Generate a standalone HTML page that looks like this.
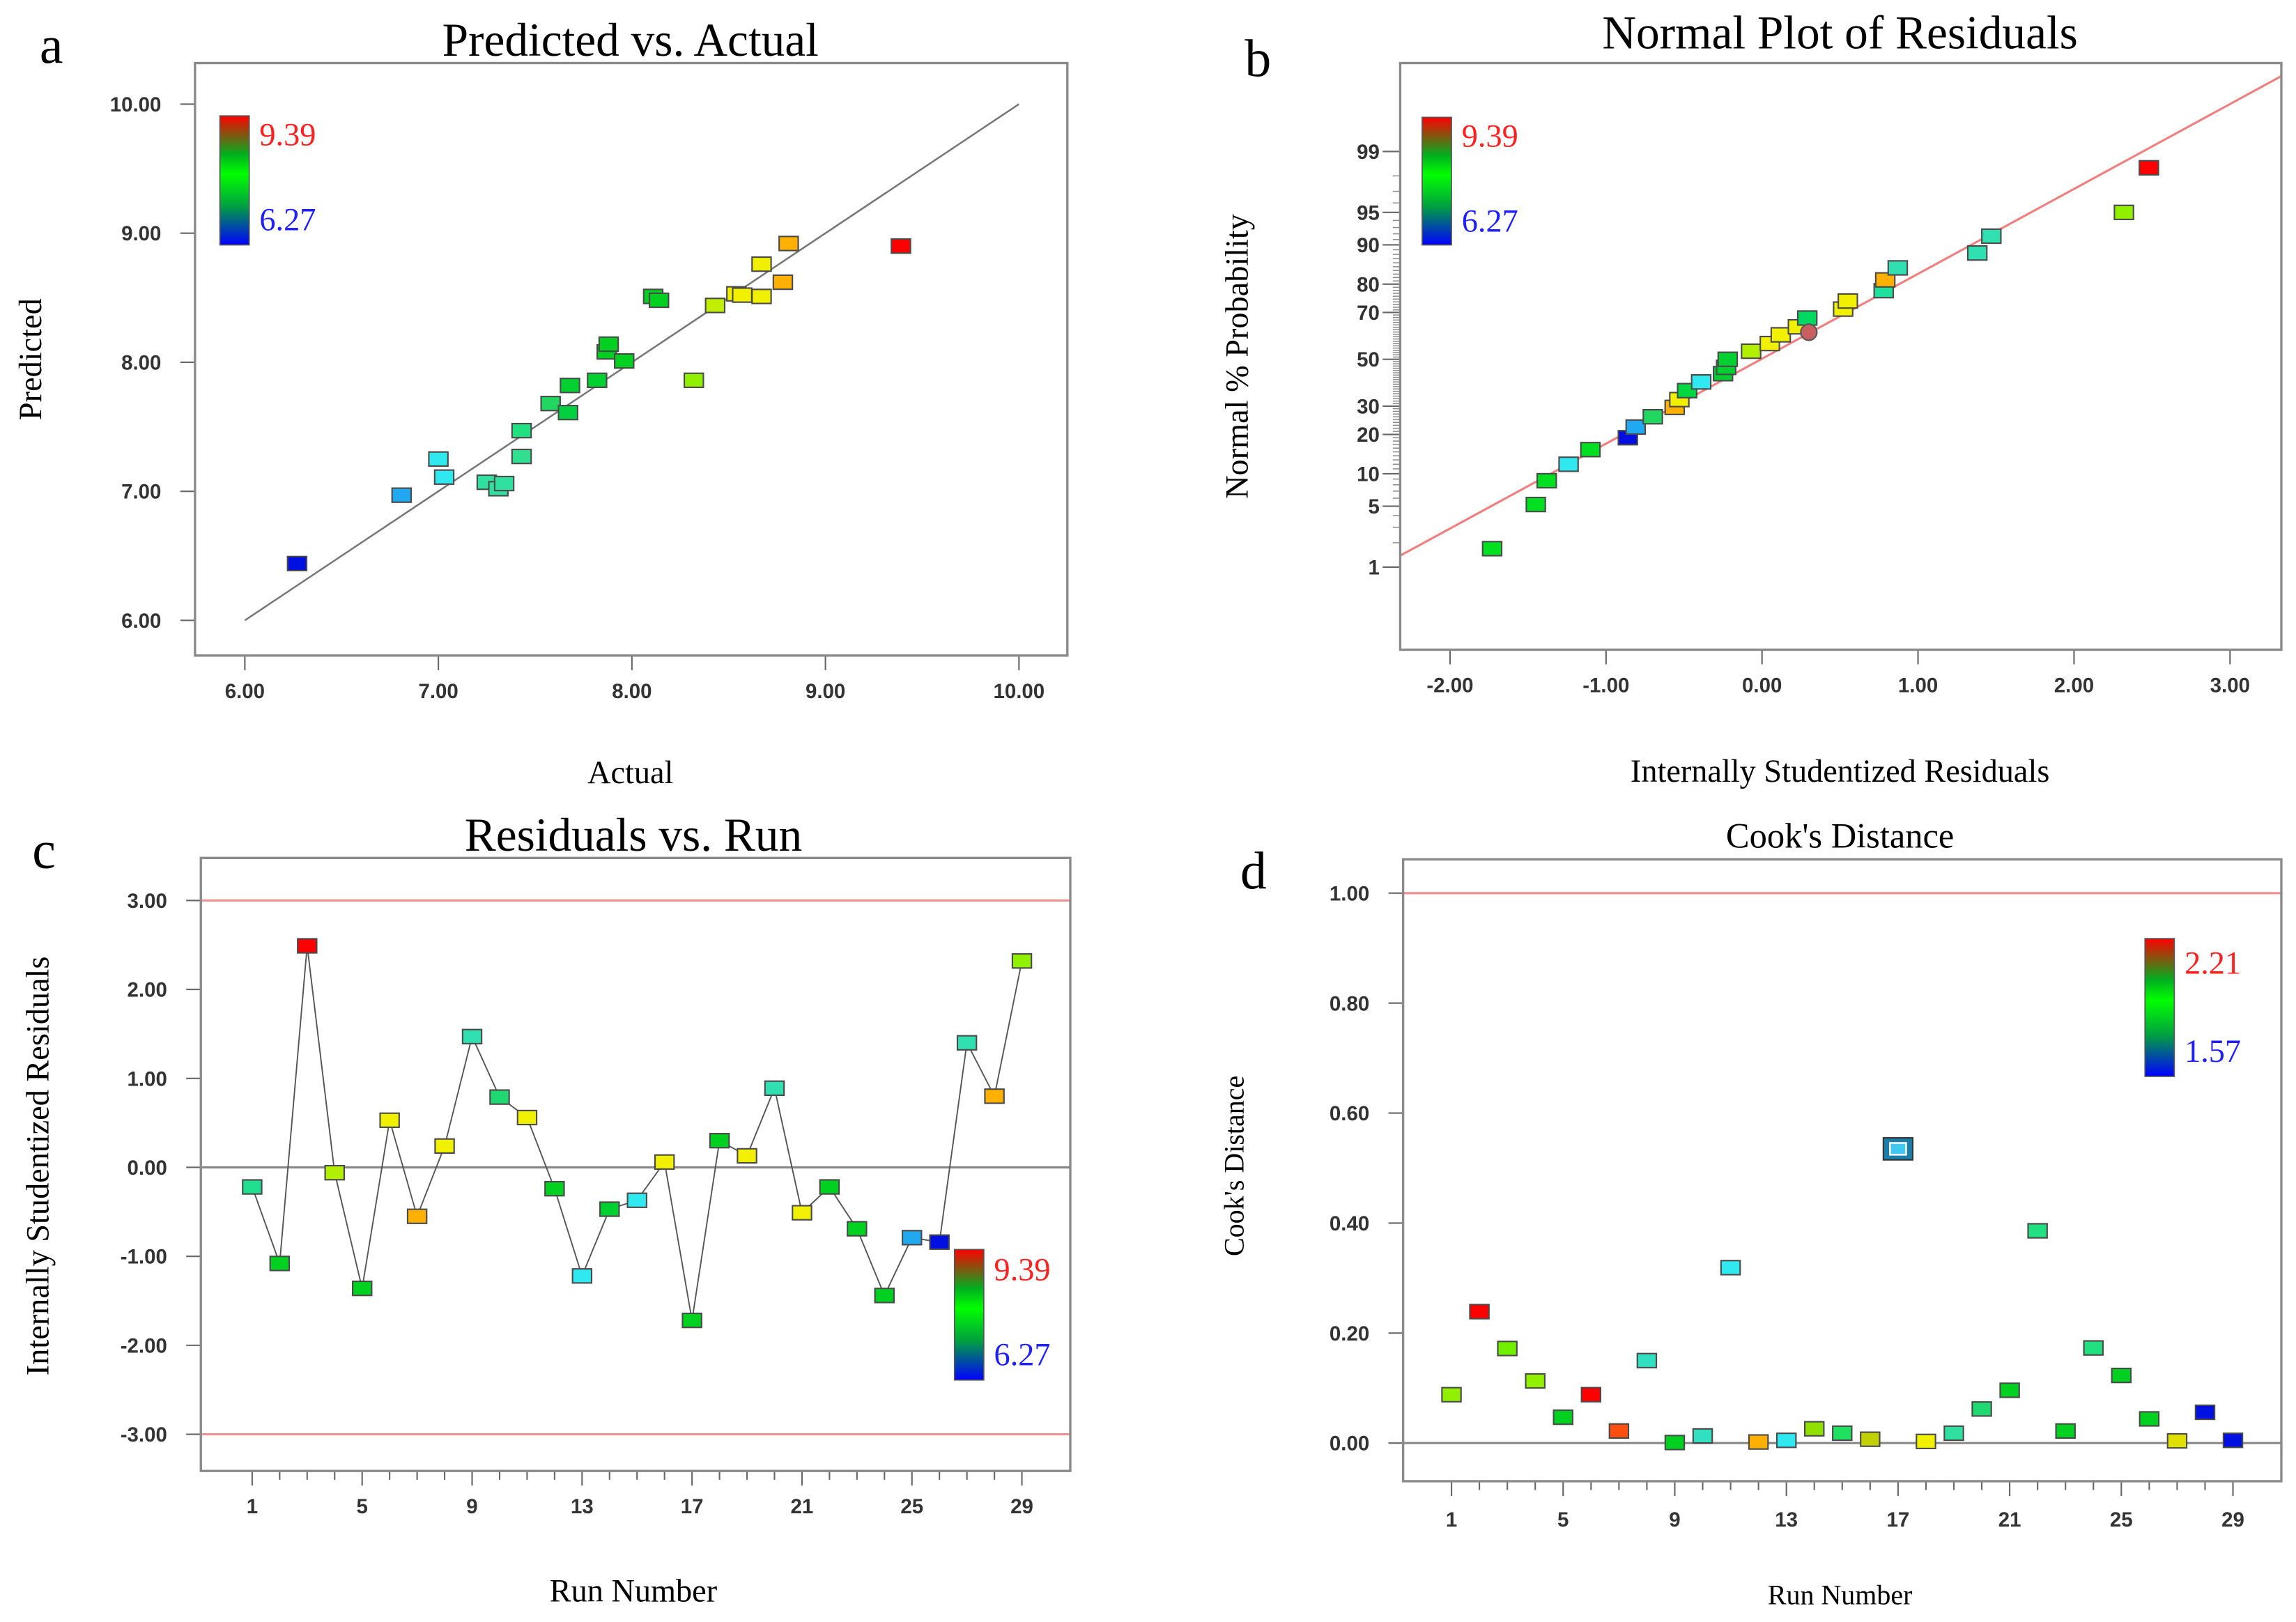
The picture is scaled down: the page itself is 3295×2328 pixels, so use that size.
<!DOCTYPE html>
<html><head><meta charset="utf-8"><style>
html,body{margin:0;padding:0;background:#fff;}
svg{display:block;}
.tk{font-family:"Liberation Sans",Arial,sans-serif;font-size:14px;fill:#333;font-weight:bold;}
.sr{font-family:"Liberation Serif","Times New Roman",serif;fill:#111;}
</style></head><body>
<svg id="fig" xmlns="http://www.w3.org/2000/svg" width="3295" height="2328" viewBox="0 0 1566 1106" preserveAspectRatio="none">
<defs>
<linearGradient id="cbar" x1="0" y1="0" x2="0" y2="1">
<stop offset="0" stop-color="#ff0000"/><stop offset="0.3" stop-color="#00b020"/><stop offset="0.45" stop-color="#00ff00"/><stop offset="0.7" stop-color="#00a040"/><stop offset="1" stop-color="#0000ff"/>
</linearGradient>
</defs>
<g id="root"></g>
</svg>
<script>
// ---------- Panel a data ----------
const aActual = [6.27,6.81,7.00,7.03,7.25,7.31,7.34,7.43,7.43,7.58,7.67,7.68,7.82,7.87,7.88,7.96,8.11,8.14,8.32,8.43,8.54,8.57,8.67,8.67,8.78,8.81,9.39];
const aPred   = [6.44,6.97,7.25,7.11,7.07,7.02,7.06,7.27,7.47,7.68,7.61,7.82,7.86,8.08,8.14,8.01,8.51,8.48,7.86,8.44,8.53,8.52,8.51,8.76,8.62,8.92,8.90];
const aColor  = ["#0010e0","#20a8f0","#30e8f0","#30e8f0","#30e0a0","#30e0a0","#30e0a0","#30e090","#20e080","#20d860","#00d040","#00d030","#00d030","#00d020","#00d020","#00d020","#00d020","#00d020","#90f000","#c0f000","#f0f000","#f0f000","#f0f000","#f0f000","#ffb000","#ffb000","#ff0000"];
const aTicks  = [6,7,8,9,10];
const aTickLabels = ["6.00","7.00","8.00","9.00","10.00"];
// ---------- Panel b data ----------
const bResid  = [-1.73,-1.45,-1.38,-1.24,-1.10,-0.86,-0.81,-0.70,-0.56,-0.53,-0.48,-0.39,-0.25,-0.23,-0.22,-0.07,0.05,0.12,0.23,0.29,0.30,0.52,0.55,0.78,0.79,0.87,1.38,1.47,2.32,2.48];
const bProb   = [1.7,5.2,8.7,12,15.6,19,22.4,26,29.5,32.6,36.3,40,43.6,46.4,50,53.6,57,60.8,64.2,67.8,61.9,71.3,74.3,77.9,81.3,84.7,88.3,91.6,95,98.4];
const bColor  = ["#00e020","#00e020","#00e020","#30e8f0","#00e020","#0010e0","#20a8f0","#20d860","#ffb000","#f0f000","#00d840","#30e8f0","#00d030","#00d030","#00d030","#b0f000","#f0f000","#f0f000","#f0f000","#00d860","#c86060","#f0f000","#f0f000","#20e0a0","#ffb000","#30e0b0","#30e0b0","#30e0b0","#90f000","#ff0000"];
const bXTicks = [-2,-1,0,1,2,3];
const bXLabels = ["-2.00","-1.00","0.00","1.00","2.00","3.00"];
const bYTicks = [1,5,10,20,30,50,70,80,90,95,99];
const bLineSlope = 0.952, bLineIntercept = 0.01;
// ---------- Panel c data ----------
const runs = [1,2,3,4,5,6,7,8,9,10,11,12,13,14,15,16,17,18,19,20,21,22,23,24,25,26,27,28,29];
const cResid = [-0.22,-1.08,2.49,-0.06,-1.36,0.53,-0.55,0.24,1.47,0.79,0.56,-0.24,-1.22,-0.47,-0.37,0.06,-1.72,0.30,0.13,0.89,-0.51,-0.22,-0.69,-1.44,-0.79,-0.84,1.40,0.80,2.32];
const cColor = ["#20e090","#00d020","#ff0000","#b0f000","#00d020","#f0f000","#ffb000","#f0f000","#30e0b0","#20d870","#f0f000","#00d020","#30e8f0","#00d030","#30e8f0","#f0f000","#00d020","#00d020","#f0f000","#30e0b0","#f0f000","#00d020","#00d020","#00d020","#20a8f0","#0010e0","#30e0b0","#ffb000","#90f000"];
const cYTicks = [-3,-2,-1,0,1,2,3];
const cYLabels = ["-3.00","-2.00","-1.00","0.00","1.00","2.00","3.00"];
const runTickLabels = [1,5,9,13,17,21,25,29];
// ---------- Panel d data ----------
const dCook = [0.088,0.239,0.172,0.113,0.047,0.088,0.022,0.150,0.001,0.013,0.319,0.002,0.005,0.026,0.018,0.007,0.535,0.003,0.018,0.062,0.096,0.386,0.022,0.173,0.123,0.044,0.004,0.056,0.005];
const dColor = ["#90f000","#ff0000","#70f000","#90f000","#00d020","#ff0000","#ff5010","#30e0c0","#00d020","#30e0c0","#30e8f0","#ffb000","#30e8f0","#90e000","#20e060","#c0d000","#20b0e0","#f0f000","#30e0a0","#20d870","#00d020","#20e080","#00d020","#20e080","#00d020","#00d020","#e0e000","#0010e0","#0010e0"];
const dYTicks = [0,0.2,0.4,0.6,0.8,1.0];
const dYLabels = ["0.00","0.20","0.40","0.60","0.80","1.00"];

const NS="http://www.w3.org/2000/svg";
const root=document.getElementById('root');
function mk(tag,attrs,parent){const e=document.createElementNS(NS,tag);for(const k in attrs)e.setAttribute(k,attrs[k]);(parent||root).appendChild(e);return e;}
function txt(s,x,y,cls,size,fill,anchor,parent,rot){const e=mk('text',{x:x,y:y,'class':cls,'font-size':size,'text-anchor':anchor||'middle'},parent);if(fill)e.style.fill=fill;if(rot)e.setAttribute('transform','rotate(-90 '+x+' '+y+')');e.textContent=s;return e;}
function lin(d0,d1,r0,r1){return v=>r0+(v-d0)*(r1-r0)/(d1-d0);}
function probit(p){const a=[-39.6968302866538,220.946098424521,-275.928510446969,138.357751867269,-30.6647980661472,2.50662827745924],b=[-54.4760987982241,161.585836858041,-155.698979859887,66.8013118877197,-13.2806815528857],c=[-0.00778489400243029,-0.322396458041136,-2.40075827716184,-2.54973253934373,4.37466414146497,2.93816398269878],d=[0.00778469570904146,0.32246712907004,2.445134137143,3.75440866190742];let q,r;if(p<0.02425){q=Math.sqrt(-2*Math.log(p));return(((((c[0]*q+c[1])*q+c[2])*q+c[3])*q+c[4])*q+c[5])/((((d[0]*q+d[1])*q+d[2])*q+d[3])*q+1);}if(p>1-0.02425){q=Math.sqrt(-2*Math.log(1-p));return-(((((c[0]*q+c[1])*q+c[2])*q+c[3])*q+c[4])*q+c[5])/((((d[0]*q+d[1])*q+d[2])*q+d[3])*q+1);}q=p-0.5;r=q*q;return(((((a[0]*r+a[1])*r+a[2])*r+a[3])*r+a[4])*r+a[5])*q/(((((b[0]*r+b[1])*r+b[2])*r+b[3])*r+b[4])*r+1);}
function frame(x,y,w,h,name){const r=mk('rect',{x:x,y:y,width:w,height:h,fill:'none',stroke:'#8a8a8a','stroke-width':1.6});}
function marker(cx,cy,col,g){const r=mk('rect',{x:cx-6.5,y:cy-4.8,width:13,height:9.6,fill:col,stroke:'#4a4a4a','stroke-width':1},g);return r;}
function colorbar(x,y,h,top,bot,ty,by,name){const g=mk('g',{});mk('rect',{x:x,y:y,width:20,height:h,fill:'url(#cbar)',stroke:'#555','stroke-width':0.8},g);txt(top,x+27,ty,'sr',22,'#ff2020','start',g);txt(bot,x+27,by,'sr',22,'#2020ff','start',g);}
function group(name){const g=mk('g',{});return g;}

// ================= Panel a =================
(function(){
 const L=133,T=43,R=728,B=447;
 const X=lin(6,10,167,695),Y=lin(6,10,423,71);
 const g=group('panel-a');
 txt('a',35,43,'sr',36,'#000','middle',g);
 txt('Predicted vs. Actual',430,38,'sr',32,'#000','middle',g);
 frame(L,T,R-L,B-T,'plot-frame-a');
 aTicks.forEach((t,i)=>{mk('line',{x1:L-10,y1:Y(t),x2:L,y2:Y(t),stroke:'#666'},g);txt(aTickLabels[i],L-23,Y(t)+5,'tk',14,null,'end',g);
  mk('line',{x1:X(t),y1:B,x2:X(t),y2:B+10,stroke:'#666'},g);txt(aTickLabels[i],X(t),B+29,'tk',14,null,'middle',g);});
 txt('Actual',430,534,'sr',22,'#000','middle',g);
 txt('Predicted',28,245,'sr',22,'#000','middle',g,true);
 mk('line',{x1:X(6),y1:Y(6),x2:X(10),y2:Y(10),stroke:'#777','stroke-width':1.2},g);
 colorbar(150,79,88,'9.39','6.27',99,157,'colorbar-a');
 const pg=group('points-a');
 aActual.forEach((v,i)=>marker(X(v),Y(aPred[i]),aColor[i],pg));
})();

// ================= Panel b =================
(function(){
 const L=955,T=43,R=1556,B=443;
 const X=lin(-2,3,989,1521);
 const Yz=z=>245-60.9*z;
 const Y=p=>Yz(probit(p/100));
 const g=group('panel-b');
 txt('b',858,52,'sr',36,'#000','middle',g);
 txt('Normal Plot of Residuals',1255,33,'sr',32,'#000','middle',g);
 frame(L,T,R-L,B-T,'plot-frame-b');
 for(let p=1;p<=99;p++){mk('line',{x1:L-5,y1:Y(p),x2:L,y2:Y(p),stroke:'#888','stroke-width':0.7},g);}
 bYTicks.forEach(t=>{mk('line',{x1:L-12,y1:Y(t),x2:L,y2:Y(t),stroke:'#666'},g);txt(String(t),L-14,Y(t)+5,'tk',14,null,'end',g);});
 bXTicks.forEach((t,i)=>{mk('line',{x1:X(t),y1:B,x2:X(t),y2:B+10,stroke:'#666'},g);txt(bXLabels[i],X(t),B+29,'tk',14,null,'middle',g);});
 txt('Internally Studentized Residuals',1255,533,'sr',22,'#000','middle',g);
 txt('Normal % Probability',851,243,'sr',22,'#000','middle',g,true);
 const x1=3.32;
 mk('line',{x1:L,y1:Yz(bLineSlope*(-2.32)+bLineIntercept),x2:R,y2:Yz(bLineSlope*x1+bLineIntercept),stroke:'#f08080','stroke-width':1.5},g);
 colorbar(970,80,87,'9.39','6.27',100,158,'colorbar-b');
 const pg=group('points-b');
 bResid.forEach((v,i)=>{if(bColor[i]==='#c86060'){const c=mk('circle',{cx:X(v),cy:Y(bProb[i]),r:5.5,fill:'#c86060',stroke:'#555'},pg);}else marker(X(v),Y(bProb[i]),bColor[i],pg);});
})();

// ================= Panel c =================
(function(){
 const L=137,T=585,R=730,B=1003;
 const X=lin(1,29,172,697),Y=lin(0,3,796,614);
 const g=group('panel-c');
 txt('c',30,592,'sr',36,'#000','middle',g);
 txt('Residuals vs. Run',432,580,'sr',32,'#000','middle',g);
 frame(L,T,R-L,B-T,'plot-frame-c');
 mk('line',{x1:L,y1:Y(3),x2:R,y2:Y(3),stroke:'#f09090','stroke-width':1.5},g);
 mk('line',{x1:L,y1:Y(-3),x2:R,y2:Y(-3),stroke:'#f09090','stroke-width':1.5},g);
 mk('line',{x1:L,y1:Y(0),x2:R,y2:Y(0),stroke:'#888','stroke-width':1.5},g);
 cYTicks.forEach((t,i)=>{mk('line',{x1:L-10,y1:Y(t),x2:L,y2:Y(t),stroke:'#666'},g);txt(cYLabels[i],L-23,Y(t)+5,'tk',14,null,'end',g);});
 runs.forEach(r=>{mk('line',{x1:X(r),y1:B,x2:X(r),y2:B+(runTickLabels.includes(r)?10:6),stroke:'#666'},g);});
 runTickLabels.forEach(r=>txt(String(r),X(r),B+29,'tk',14,null,'middle',g));
 txt('Run Number',432,1092,'sr',22,'#000','middle',g);
 txt('Internally Studentized Residuals',33,795,'sr',22,'#000','middle',g,true);
 const pts=runs.map((r,i)=>X(r)+','+Y(cResid[i])).join(' ');
 const pl=mk('polyline',{points:pts,fill:'none',stroke:'#555','stroke-width':0.9},g);
 
 const pg=group('points-c');
 runs.forEach((r,i)=>marker(X(r),Y(cResid[i]),cColor[i],pg));
 colorbar(651,852,89,'9.39','6.27',873,931,'colorbar-c');
})();

// ================= Panel d =================
(function(){
 const L=957,T=586,R=1556,B=1010;
 const X=lin(1,29,990,1523),Y=lin(0,1,984,609);
 const g=group('panel-d');
 txt('d',855,606,'sr',36,'#000','middle',g);
 txt("Cook's Distance",1255,578,'sr',24,'#000','middle',g);
 frame(L,T,R-L,B-T,'plot-frame-d');
 mk('line',{x1:L,y1:Y(1),x2:R,y2:Y(1),stroke:'#f09090','stroke-width':1.5},g);
 mk('line',{x1:L,y1:Y(0),x2:R,y2:Y(0),stroke:'#888','stroke-width':1.5},g);
 dYTicks.forEach((t,i)=>{mk('line',{x1:L-10,y1:Y(t),x2:L,y2:Y(t),stroke:'#666'},g);txt(dYLabels[i],L-23,Y(t)+5,'tk',14,null,'end',g);});
 runs.forEach(r=>{mk('line',{x1:X(r),y1:B,x2:X(r),y2:B+(runTickLabels.includes(r)?10:6),stroke:'#666'},g);});
 runTickLabels.forEach(r=>txt(String(r),X(r),B+31,'tk',14,null,'middle',g));
 txt('Run Number',1255,1094,'sr',19,'#000','middle',g);
 txt("Cook's Distance",848,795,'sr',19,'#000','middle',g,true);
 const pg=group('points-d');
 runs.forEach((r,i)=>{if(dCook[i]>0.5){const o=mk('rect',{x:X(r)-10,y:Y(dCook[i])-7.5,width:20,height:15,fill:'#1a7fa8',stroke:'#333'},pg);mk('rect',{x:X(r)-5.5,y:Y(dCook[i])-4,width:11,height:8,fill:'#40c8f0',stroke:'#fff','stroke-width':1.2},pg);}else marker(X(r),Y(dCook[i]),dColor[i],pg);});
 colorbar(1463,640,94,'2.21','1.57',664,724,'colorbar-d');
})();
</script>
</body></html>
